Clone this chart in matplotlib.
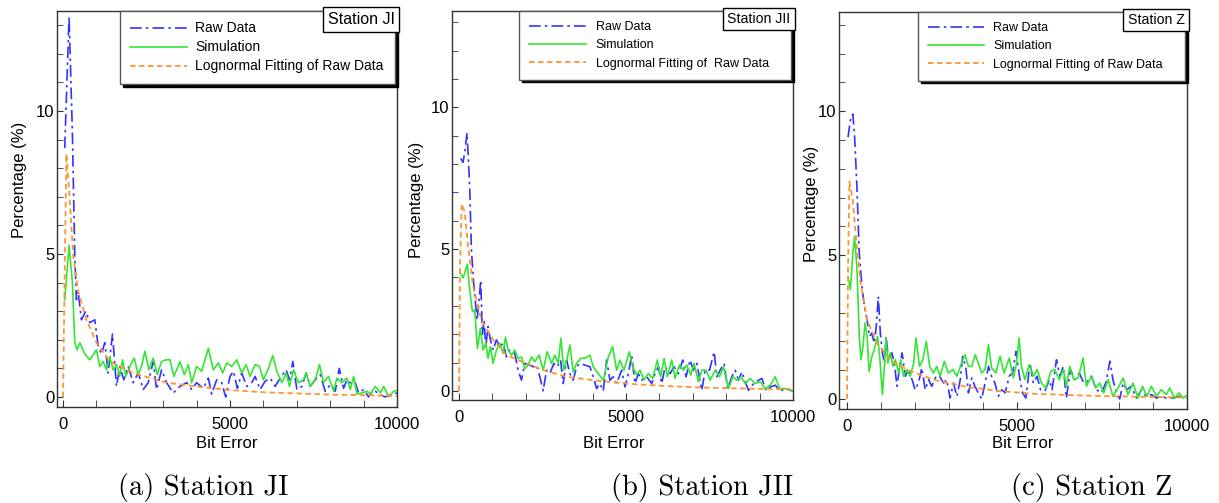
import numpy as np
import matplotlib
matplotlib.use("Agg")
import matplotlib.pyplot as plt
from matplotlib.ticker import MultipleLocator

plt.rcParams['font.family'] = ['Liberation Sans', 'DejaVu Sans']

# ---------------- Station JI ----------------
ji_raw_x = [50, 180, 280, 350, 400, 450, 550, 680, 800, 950, 1050, 1150, 1250, 1350, 1480, 1600,
            1700, 1820, 1950, 2100, 2250, 2400, 2550, 2700, 2800, 2950, 3100, 3300, 3500, 3700,
            3850, 4000, 4200, 4350, 4450, 4600, 4750, 4870, 5000, 5100, 5220, 5350, 5500, 5650,
            5750, 5900, 6050, 6200, 6350, 6500, 6680, 6780, 6880, 7000, 7150, 7280, 7400, 7550,
            7700, 7850, 8000, 8150, 8270, 8400, 8500, 8650, 8750, 8850, 9000, 9150, 9300, 9450,
            9650, 9850, 10000]
ji_raw_y = [8.7, 13.3, 9.2, 5.0, 3.4, 3.7, 2.7, 3.0, 2.6, 2.7, 1.8, 1.5, 1.9, 0.84, 2.2, 0.37,
            1.07, 0.6, 1.07, 0.5, 0.84, 0.26, 0.5, 1.24, 0.26, 0.95, 0.5, 0.14, 0.37, 0.5,
            0.26, 0.5, 0.3, 0.66, 0.1, 0.6, 0.5, 0.0, 0.72, 0.9, 0.3, 0.84, 0.37, 0.5,
            0.72, 0.26, 0.55, 0.66, 0.37, 0.66, 0.95, 0.6, 1.24, 0.26, 0.37, 0.84, 0.37, 0.6,
            0.78, 0.2, 0.43, 0.2, 1.0, 0.3, 0.6, 0.43, 0.5, 0.14, 0.26, 0.0, 0.26, 0.1,
            0.0, 0.1, 0.14]
ji_sim_x = [50, 180, 280, 350, 420, 500, 650, 800, 1000, 1100, 1200, 1300, 1400, 1500, 1600,
            1700, 1780, 1880, 2000, 2130, 2250, 2350, 2450, 2570, 2700, 2820, 2950, 3080, 3200,
            3320, 3500, 3630, 3750, 3850, 4000, 4150, 4350, 4500, 4650, 4780, 4900, 5050, 5200,
            5350, 5480, 5600, 5750, 5880, 6000, 6150, 6280, 6400, 6550, 6680, 6780, 6900, 7050,
            7200, 7280, 7400, 7550, 7680, 7800, 7950, 8100, 8200, 8350, 8500, 8600, 8700, 8800,
            8950, 9100, 9200, 9350, 9500, 9600, 9750, 9900, 10000]
ji_sim_y = [3.4, 5.3, 4.0, 1.9, 1.65, 1.9, 1.5, 1.3, 1.65, 1.07, 1.24, 0.95, 1.4, 0.95, 1.13,
            0.72, 1.3, 0.72, 1.07, 1.36, 0.78, 1.07, 1.6, 0.95, 1.36, 0.78, 1.24, 1.3, 1.3,
            0.72, 1.24, 0.78, 1.13, 0.5, 1.07, 0.9, 1.7, 0.95, 1.19, 0.84, 1.19, 1.07, 1.3,
            0.84, 1.13, 0.72, 1.13, 1.07, 0.6, 1.0, 1.45, 0.9, 0.5, 0.84, 0.37, 0.95, 0.5,
            0.6, 0.84, 0.37, 0.6, 1.13, 0.5, 0.72, 0.2, 0.66, 0.5, 0.66, 0.26, 0.72, 0.1,
            0.14, 0.2, 0.1, 0.37, 0.14, 0.37, 0.0, 0.2, 0.23]
ji_fit_x = [0, 50, 100, 200, 300, 450, 700, 1000, 1400, 2100, 3100, 4100, 5100, 6100, 7100,
            8100, 9100, 10000]
ji_fit_y = [0, 4.5, 8.5, 6.9, 5.0, 3.7, 2.7, 1.9, 1.24, 0.84, 0.5, 0.35, 0.23, 0.16, 0.12,
            0.08, 0.06, 0.03]

# ---------------- Station JII ----------------
jii_raw_x = [50, 120, 170, 240, 320, 370, 440, 500, 540, 600, 650, 700, 750, 800, 870, 940,
             1020, 1120, 1220, 1320, 1420, 1520, 1670, 1770, 1870, 1970, 2120, 2220, 2320, 2420,
             2520, 2620, 2720, 2840, 2940, 3040, 3120, 3220, 3320, 3420, 3520, 3620, 3770, 3920,
             4020, 4120, 4220, 4320, 4420, 4520, 4620, 4720, 4870, 4970, 5070, 5170, 5270, 5370,
             5470, 5620, 5770, 5870, 5970, 6070, 6170, 6320, 6440, 6570, 6700, 6800, 6920, 7020,
             7120, 7270, 7370, 7500, 7640, 7720, 7820, 7940, 8040, 8170, 8270, 8370, 8470, 8570,
             8670, 8820, 8970, 9070, 9200, 9320, 9470, 9620, 9770, 9920, 10000]
jii_raw_y = [8.2, 8.06, 8.4, 9.1, 7.2, 5.0, 3.8, 3.0, 2.5, 3.2, 3.9, 2.0, 2.5, 1.56, 2.27, 1.8,
             1.44, 1.8, 1.56, 1.68, 1.2, 1.44, 1.32, 0.73, 0.38, 0.97, 0.91, 0.85, 0.91, 0.5,
             0.0, 0.73, 0.61, 0.97, 0.85, 1.09, 0.26, 1.09, 0.61, 0.38, 0.85, 0.97, 0.91, 0.85,
             0.5, 0.08, 0.26, 0.0, 1.09, 0.38, 0.5, 0.26, 0.73, 0.14, 0.61, 1.26, 0.26, 0.61,
             0.38, 0.5, 0.26, 0.61, 0.85, 0.26, 0.85, 0.61, 0.85, 0.61, 1.09, 0.5, 1.09, 0.73,
             0.97, 0.02, 0.73, 0.73, 1.38, 0.5, 0.73, 0.97, 0.08, 0.5, 0.73, 0.38, 0.67, 0.32,
             0.02, 0.26, 0.38, 0.44, 0.0, 0.14, 0.2, 0.0, 0.08, 0.02, 0.0]
jii_sim_x = [40, 120, 250, 320, 400, 470, 550, 640, 720, 800, 870, 940, 1020, 1120, 1220, 1320,
             1390, 1470, 1570, 1670, 1770, 1870, 1970, 2070, 2170, 2270, 2400, 2520, 2640, 2770,
             2870, 2970, 3050, 3140, 3240, 3320, 3420, 3520, 3640, 3770, 3920, 4020, 4170, 4320,
             4470, 4600, 4720, 4820, 4940, 5100, 5200, 5320, 5420, 5540, 5670, 5800, 5940, 6040,
             6140, 6240, 6370, 6470, 6600, 6720, 6820, 6940, 7040, 7170, 7270, 7400, 7520, 7670,
             7800, 7920, 8070, 8200, 8320, 8440, 8570, 8720, 8870, 9020, 9170, 9320, 9470, 9600,
             9720, 9820, 9920, 10000]
jii_sim_y = [4.16, 3.98, 4.46, 3.57, 2.8, 2.86, 1.5, 2.2, 1.44, 1.68, 1.15, 1.56, 0.97, 1.44,
             1.68, 1.32, 1.9, 1.44, 1.26, 1.44, 1.15, 1.2, 0.79, 0.91, 1.2, 1.03, 1.26, 0.73,
             1.38, 0.97, 1.26, 0.97, 1.86, 0.73, 1.15, 1.62, 0.67, 0.97, 1.15, 1.15, 1.26, 0.85,
             0.61, 0.38, 1.2, 1.56, 0.73, 1.09, 0.73, 1.38, 0.85, 0.56, 0.73, 0.38, 0.61, 0.44,
             1.09, 0.5, 1.15, 0.5, 1.09, 0.44, 0.91, 0.73, 0.91, 0.56, 0.97, 0.32, 0.73, 0.73,
             0.38, 0.73, 0.5, 0.85, 0.08, 0.5, 0.38, 0.5, 0.26, 0.44, 0.26, 0.32, 0.08, 0.2,
             0.5, 0.08, 0.08, 0.08, 0.02, 0.0]
jii_fit_x = [0, 30, 80, 170, 270, 420, 670, 1020, 1420, 2020, 2520, 3220, 4220, 5220, 6220,
             7220, 8220, 9220, 10000]
jii_fit_y = [0, 4.4, 6.6, 6.3, 5.1, 3.7, 2.5, 1.8, 1.26, 0.97, 0.73, 0.5, 0.35, 0.24, 0.17,
             0.12, 0.09, 0.07, 0.06]

# ---------------- Station Z ----------------
z_raw_x = [30, 100, 170, 220, 290, 360, 440, 510, 590, 660, 730, 800, 860, 920, 980, 1040,
           1100, 1150, 1220, 1320, 1390, 1470, 1550, 1620, 1710, 1810, 1930, 2000, 2100, 2200,
           2300, 2400, 2490, 2620, 2720, 2840, 2930, 3030, 3130, 3230, 3330, 3400, 3490, 3570,
           3670, 3760, 3860, 3960, 4060, 4160, 4250, 4350, 4450, 4550, 4650, 4770, 4870, 4970,
           5070, 5160, 5260, 5380, 5480, 5590, 5690, 5820, 5950, 6030, 6160, 6260, 6360, 6450,
           6570, 6700, 6830, 6940, 7040, 7190, 7330, 7480, 7610, 7730, 7820, 7920, 8020, 8120,
           8230, 8360, 8510, 8660, 8800, 8950, 9100, 9240, 9390, 9580, 9780, 9980]
z_raw_y = [9.1, 9.7, 9.9, 9.2, 7.4, 5.06, 3.9, 3.2, 2.75, 2.17, 2.29, 1.94, 2.52, 3.56, 2.29,
           1.6, 1.25, 2.17, 1.36, 1.6, 1.25, 0.44, 1.13, 1.6, 0.79, 1.02, 0.61, 0.32, 0.55,
           1.08, 0.32, 0.67, 0.44, 0.79, 0.79, 0.55, 0.67, 0.03, 0.55, 0.09, 0.67, 1.48, 1.13,
           0.21, 0.73, 0.44, 0.21, 0.0, 0.55, 1.13, 0.79, 0.55, 0.09, 0.32, 0.21, 0.79, 0.9,
           1.65, 0.79, 0.21, 0.03, 1.25, 0.55, 0.79, 0.32, 0.27, 0.67, 0.32, 1.36, 0.79, 1.13,
           0.03, 1.02, 0.67, 0.9, 0.61, 0.55, 0.79, 0.32, 0.21, 0.55, 1.31, 0.67, 0.21, 0.0,
           0.55, 0.32, 0.44, 0.03, 0.32, 0.09, 0.15, 0.03, 0.09, 0.03, 0.03, 0.09, 0.03]
z_sim_x = [30, 100, 170, 220, 290, 360, 410, 470, 530, 590, 650, 730, 800, 900, 960, 1040,
           1100, 1150, 1200, 1270, 1350, 1420, 1520, 1580, 1660, 1760, 1860, 1960, 2030, 2130,
           2230, 2330, 2430, 2540, 2640, 2740, 2860, 2980, 3110, 3230, 3370, 3470, 3570, 3670,
           3770, 3860, 3960, 4060, 4160, 4250, 4380, 4500, 4620, 4770, 4890, 4990, 5060, 5130,
           5230, 5360, 5480, 5590, 5720, 5850, 5990, 6110, 6240, 6360, 6450, 6550, 6670, 6800,
           6940, 7040, 7190, 7310, 7430, 7550, 7680, 7820, 7970, 8120, 8260, 8410, 8560, 8690,
           8820, 8950, 9100, 9240, 9390, 9490, 9630, 9760, 9880, 9980]
z_sim_y = [4.25, 3.8, 5.06, 5.64, 4.6, 2.17, 1.36, 1.83, 2.64, 2.17, 0.96, 1.48, 1.71, 2.17,
           1.48, 0.15, 1.13, 2.12, 1.25, 1.6, 1.13, 1.36, 0.9, 1.36, 0.79, 1.02, 0.79, 1.25,
           2.12, 1.13, 1.36, 2.0, 1.13, 0.9, 1.13, 0.79, 1.31, 0.9, 1.02, 0.79, 1.25, 1.54,
           1.13, 1.13, 1.54, 1.25, 0.9, 1.02, 1.88, 1.08, 0.9, 1.48, 0.9, 1.42, 0.73, 1.25,
           2.12, 1.13, 0.67, 1.19, 0.79, 1.02, 0.55, 0.38, 0.96, 1.02, 0.67, 1.02, 0.44, 1.13,
           0.67, 0.73, 1.42, 0.44, 0.79, 0.38, 0.55, 0.21, 0.67, 0.09, 0.38, 0.73, 0.15, 0.55,
           0.03, 0.44, 0.09, 0.44, 0.09, 0.32, 0.15, 0.38, 0.03, 0.21, 0.03, 0.12]
z_fit_x = [0, 30, 70, 170, 270, 390, 590, 880, 1270, 1760, 2540, 3520, 4500, 5480, 6450, 7430,
           8410, 9390, 9980]
z_fit_y = [0, 4.6, 7.55, 6.9, 5.5, 4.1, 2.75, 1.94, 1.36, 1.02, 0.67, 0.42, 0.27, 0.18, 0.14,
           0.1, 0.08, 0.06, 0.05]

station_names = ["Station JI", "Station JII", "Station Z"]
captions = ["(a) Station JI", "(b) Station JII", "(c) Station Z"]
fit_labels = ["Lognormal Fitting of Raw Data", "Lognormal Fitting of  Raw Data",
              "Lognormal Fitting of Raw Data"]

fig = plt.figure(figsize=(12.19, 5.03), dpi=100)

# axes boxes, limits, legend layout, station name size, label spots
panels = [
    dict(pos=[0.0468, 0.1909, 0.2789, 0.7873], xl=(-180, 10000), yl=(-0.35, 13.5),
         leg_x=0.185, leg_fs=10.0, hl=4.1, htp=0.55, ls=0.36, bp=0.75, name_fs=11.5,
         ylab=(-0.109, 0.573), xlab=(0.5, -0.091), cap_x=203,
         raw=(ji_raw_x, ji_raw_y), sim=(ji_sim_x, ji_sim_y), fit=(ji_fit_x, ji_fit_y)),
    dict(pos=[0.3708, 0.2048, 0.2797, 0.7734], xl=(-210, 10000), yl=(-0.32, 13.4),
         leg_x=0.196, leg_fs=9.0, hl=4.6, htp=0.75, ls=0.51, bp=0.8, name_fs=10.2,
         ylab=(-0.103, 0.514), xlab=(0.474, -0.111), cap_x=702,
         raw=(jii_raw_x, jii_raw_y), sim=(jii_sim_x, jii_sim_y), fit=(jii_fit_x, jii_fit_y)),
    dict(pos=[0.6883, 0.1869, 0.2855, 0.7893], xl=(-235, 10000), yl=(-0.35, 13.45),
         leg_x=0.227, leg_fs=9.0, hl=4.5, htp=0.7, ls=0.51, bp=0.8, name_fs=10.2,
         ylab=(-0.078, 0.516), xlab=(0.529, -0.086), cap_x=1092,
         raw=(z_raw_x, z_raw_y), sim=(z_sim_x, z_sim_y), fit=(z_fit_x, z_fit_y)),
]

for i, p in enumerate(panels):
    ax = fig.add_axes(p['pos'])
    ax.plot(p['raw'][0], p['raw'][1], color='#3333ff', lw=1.2,
            linestyle=(0, (7, 2.5, 1.5, 2.5)), label='Raw Data')
    ax.plot(p['sim'][0], p['sim'][1], color='#33e633', lw=1.2, label='Simulation')
    ax.plot(p['fit'][0], p['fit'][1], color='#ff9430', lw=1.3,
            linestyle=(0, (3, 2)), label=fit_labels[i])

    ax.set_xlim(p['xl'])
    ax.set_ylim(p['yl'])
    ax.set_xticks([0, 5000, 10000])
    ax.xaxis.set_minor_locator(MultipleLocator(1000))
    ax.set_yticks([0, 5, 10])
    ax.yaxis.set_minor_locator(MultipleLocator(1))
    ax.tick_params(axis='both', which='both', direction='in', top=False, right=False,
                   labelsize=12, color='#333333')
    ax.tick_params(axis='x', which='both', length=5, pad=7)
    ax.tick_params(axis='y', which='both', length=4, pad=2)
    for s in ax.spines.values():
        s.set_color('#333333')
        s.set_linewidth(1.0)

    ax.set_xlabel('Bit Error', fontsize=12)
    ax.xaxis.set_label_coords(*p['xlab'])
    ax.xaxis.label.set_va('center')
    ax.set_ylabel('Percentage (%)', fontsize=12)
    ax.yaxis.set_label_coords(*p['ylab'])
    ax.yaxis.label.set_va('center')

    leg = ax.legend(loc='upper left', bbox_to_anchor=(p['leg_x'], 0.83, 0.995 - p['leg_x'], 0.17),
                    mode='expand', borderaxespad=0, borderpad=p['bp'], fontsize=p['leg_fs'],
                    handlelength=p['hl'], handletextpad=p['htp'], labelspacing=p['ls'],
                    fancybox=False, framealpha=1, shadow={'color': 'black', 'alpha': 1})
    leg.get_frame().set_edgecolor('#555555')
    leg.get_frame().set_linewidth(1.0)

    ax.text(0.993, 0.997, station_names[i], transform=ax.transAxes, ha='right', va='top',
            fontsize=p['name_fs'], zorder=10,
            bbox=dict(boxstyle='square,pad=0.3', fc='white', ec='black', lw=1.0))

    fig.text(p['cap_x'] / 1219, 1 - 488 / 503, captions[i], ha='center', va='center',
             fontsize=20.5, family='cmr10')

fig.savefig('out.png', dpi=100)
